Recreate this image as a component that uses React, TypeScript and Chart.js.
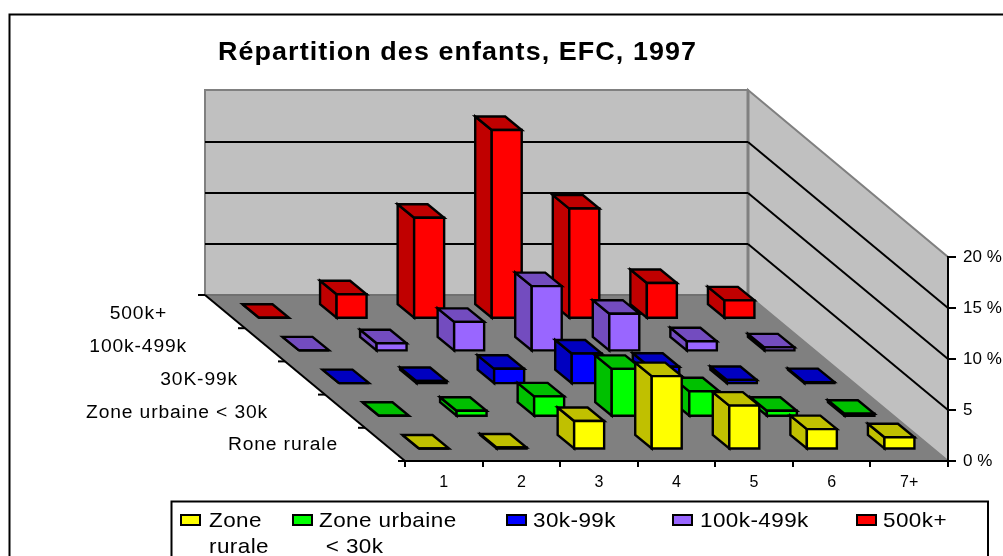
import React, { useEffect, useRef } from "react";
import { Chart, registerables } from "chart.js";

Chart.register(...registerables);

const childCounts = ["1", "2", "3", "4", "5", "6", "7+"];
const yTickLabels = ["0 %", "5", "10 %", "15 %", "20 %"];
const titleText = "Répartition des enfants, EFC, 1997";

const rurale = [0, 0.1, 2.7, 7.1, 4.2, 1.9, 1.1];
const urbaine = [0, 0.5, 1.9, 4.6, 2.4, 0.5, 0.2];
const k30to99 = [0, 0.2, 1.4, 2.9, 1.6, 0.3, 0.1];
const k100to499 = [0, 0.7, 2.8, 6.3, 3.6, 0.9, 0.3];
const k500plus = [0, 2.3, 9.8, 18.4, 10.7, 3.4, 1.7];

const seriesNames = ["Zone rurale", "Zone urbaine < 30k", "30k-99k", "100k-499k", "500k+"];
const seriesValues = [rurale, urbaine, k30to99, k100to499, k500plus];
const frontColours = ["#FFFF00", "#00FF00", "#0000FF", "#9966FF", "#FF0000"];
const darkColours = ["#C0C000", "#00C000", "#0000C0", "#734CBF", "#C00000"];

const depthLabels = ["Rone rurale", "Zone urbaine < 30k", "30K-99k", "100k-499k", "500k+"];
const legendLines = [["Zone", "rurale"], ["Zone urbaine", " < 30k"], ["30k-99k"], ["100k-499k"], ["500k+"]];

const FONT = '"Liberation Sans", Arial, sans-serif';
const DEPTH_X = 200;
const DEPTH_Y = 166;
const ROW_X = 40;
const ROW_Y = 32.7;
const BAR_W = 30;
const BAR_DX = 16.5;
const BAR_DY = 13.5;

type Pt = [number, number];

function poly(ctx: CanvasRenderingContext2D, pts: Pt[], fill: string | null, stroke: string | null, lw = 2) {
  ctx.beginPath();
  pts.forEach((p, i) => (i ? ctx.lineTo(p[0], p[1]) : ctx.moveTo(p[0], p[1])));
  ctx.closePath();
  if (fill) {
    ctx.fillStyle = fill;
    ctx.fill();
  }
  if (stroke) {
    ctx.strokeStyle = stroke;
    ctx.lineWidth = lw;
    ctx.lineJoin = "miter";
    ctx.stroke();
  }
}

function line(ctx: CanvasRenderingContext2D, a: Pt, b: Pt, colour: string, lw = 2) {
  ctx.beginPath();
  ctx.moveTo(a[0], a[1]);
  ctx.lineTo(b[0], b[1]);
  ctx.strokeStyle = colour;
  ctx.lineWidth = lw;
  ctx.stroke();
}

function text(
  ctx: CanvasRenderingContext2D,
  s: string,
  x: number,
  y: number,
  font: string,
  stretch: number,
  spacing: number,
  align: "left" | "right" = "left"
) {
  ctx.save();
  ctx.translate(x, y);
  ctx.scale(stretch, 1);
  ctx.font = font;
  (ctx as any).letterSpacing = `${spacing}px`;
  ctx.fillStyle = "#000";
  ctx.textAlign = align;
  ctx.textBaseline = "middle";
  ctx.fillText(s, 0, 0);
  ctx.restore();
}

const scene3d = {
  id: "scene3d",
  beforeDraw(chart: any) {
    const { ctx, chartArea: area, scales } = chart;
    const xs = scales.x;
    const ys = scales.y;
    const bottom = ys.getPixelForValue(0);
    const top = ys.getPixelForValue(20);
    const { left, right } = area;
    const bl = left - DEPTH_X;
    const br = right - DEPTH_X;
    const by = bottom - DEPTH_Y;
    const ty = top - DEPTH_Y;

    ctx.save();
    // outer frame and legend box
    ctx.fillStyle = "#fff";
    ctx.fillRect(0, 0, chart.width, chart.height);
    poly(ctx, [[9.5, 14.5], [1020, 14.5], [1020, 570], [9.5, 570]], null, "#000", 2);

    // walls and floor
    poly(ctx, [[bl, ty - 1], [br, ty - 1], [br, by], [bl, by]], "#C0C0C0", "#808080", 2);
    poly(ctx, [[br, ty - 1], [right, top], [right, bottom], [br, by]], "#C0C0C0", "#808080", 2);
    line(ctx, [br, ty], [br, by], "#808080", 3);
    poly(ctx, [[bl, by], [br, by], [right, bottom], [left, bottom]], "#808080", null);
    line(ctx, [bl, by], [br, by], "#707070", 2);
    ys.ticks.forEach((t: any) => {
      if (t.value <= 0 || t.value >= 20) return;
      const p = ys.getPixelForValue(t.value);
      line(ctx, [bl, p - DEPTH_Y], [br, p - DEPTH_Y], "#000", 2);
      line(ctx, [br, p - DEPTH_Y], [right, p], "#000", 2);
    });

    // depth axis
    line(ctx, [bl, by], [left, bottom], "#000", 2);
    for (let i = 0; i <= seriesNames.length; i++) {
      const f = i / seriesNames.length;
      const px = bl + f * DEPTH_X;
      const py = by + f * DEPTH_Y;
      line(ctx, [px - 7, py], [px, py], "#000", 2);
    }
    const labelRight = [338, 268, 238, 187, 167];
    const labelY = [445, 413, 380, 347, 314];
    depthLabels.forEach((l, i) => text(ctx, l, labelRight[i], labelY[i], `18px ${FONT}`, 1.07, 0.8, "right"));

    // title
    text(ctx, titleText, 218, 53, `bold 25px ${FONT}`, 1.076, 1);

    // 3D columns, back row first
    const catW = xs.getPixelForValue(1) - xs.getPixelForValue(0);
    for (let r = chart.data.datasets.length - 1; r >= 0; r--) {
      const values: number[] = chart.data.datasets[r].data;
      values.forEach((v, c) => {
        const x0 = xs.getPixelForValue(c) - catW / 2 + 14 - r * ROW_X;
        const x1 = x0 + BAR_W;
        const yb = bottom - 12.5 - r * ROW_Y;
        const yt = yb - (bottom - ys.getPixelForValue(v));
        const front = frontColours[r];
        const dark = darkColours[r];
        poly(ctx, [[x0, yt], [x0 - BAR_DX, yt - BAR_DY], [x0 - BAR_DX, yb - BAR_DY], [x0, yb]], dark, "#000", 2.4);
        poly(ctx, [[x0, yt], [x1, yt], [x1 - BAR_DX, yt - BAR_DY], [x0 - BAR_DX, yt - BAR_DY]], dark, "#000", 2.4);
        poly(ctx, [[x0, yt], [x1, yt], [x1, yb], [x0, yb]], front, "#000", 2.4);
      });
    }

    // legend
    poly(ctx, [[171.5, 501.5], [988, 501.5], [988, 570], [171.5, 570]], null, "#000", 2);
    const swatchX = [181, 293, 507, 673, 857];
    const textX = [209, 319, 533, 700, 883];
    legendLines.forEach((lines, i) => {
      poly(ctx, [[swatchX[i], 515], [swatchX[i] + 19, 515], [swatchX[i] + 19, 525], [swatchX[i], 525]], frontColours[i], "#000", 2);
      lines.forEach((l, j) => text(ctx, l, textX[i], 521 + j * 26, `21px ${FONT}`, 1.07, 0.4));
    });
    ctx.restore();
  },
};

export default function App() {
  const ref = useRef<HTMLCanvasElement>(null);
  useEffect(() => {
    const chart = new Chart(ref.current as HTMLCanvasElement, {
      type: "bar",
      data: {
        labels: childCounts,
        datasets: seriesValues.map((data, i) => ({
          label: seriesNames[i],
          data,
          backgroundColor: "rgba(0,0,0,0)",
          borderWidth: 0,
        })),
      },
      options: {
        responsive: false,
        animation: false,
        layout: { padding: { left: 405, top: 257, right: 0, bottom: 55 } },
        plugins: { legend: { display: false }, title: { display: false }, tooltip: { enabled: false } },
        scales: {
          x: {
            afterFit: (s: any) => {
              s.height = 40;
            },
            grid: { drawOnChartArea: false, color: "#000", lineWidth: 2, tickLength: 6 },
            border: { color: "#000", width: 2 },
            ticks: { color: "#000", font: { family: FONT, size: 16 }, padding: 6, maxRotation: 0 },
          },
          y: {
            position: "right",
            min: 0,
            max: 20,
            afterFit: (s: any) => {
              s.width = 55;
            },
            grid: { drawOnChartArea: false, color: "#000", lineWidth: 2, tickLength: 8 },
            border: { color: "#000", width: 2 },
            ticks: {
              stepSize: 5,
              color: "#000",
              font: { family: FONT, size: 17 },
              padding: 7,
              callback: (_v: any, i: number) => yTickLabels[i],
            },
          },
        },
      },
      plugins: [scene3d],
    } as any);
    return () => chart.destroy();
  }, []);
  return (
    <canvas
      ref={ref}
      width={1003}
      height={556}
      style={{ position: "fixed", left: 0, top: 0, width: 1003, height: 556, display: "block" }}
    />
  );
}
